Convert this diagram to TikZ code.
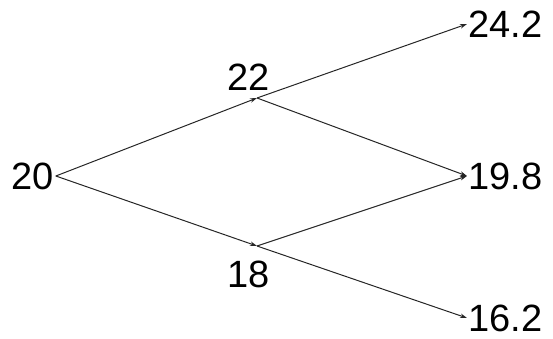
\documentclass[tikz,border=0pt]{standalone}
\usepackage{fontspec}
\setmainfont{Liberation Sans}
\usetikzlibrary{arrows.meta}

\begin{document}
\begin{tikzpicture}[
    x=1pt, y=-1pt,
    val/.style={inner sep=1.5pt, font=\fontsize{38}{41}\selectfont},
    edge/.style={-{Stealth[length=7pt,width=4.5pt]}, line width=1pt, black!85},
]
    \useasboundingbox (0,0) rectangle (553,339);

    \node[val] (s0) at (33,176) {20};
    \coordinate (u) at (257,98);
    \coordinate (d) at (257,246);
    \node[val] (su) at (249,77) {22};
    \node[val] (sd) at (249,274) {18};
    \node[val, anchor=west] (suu) at (467,24) {24.2};
    \node[val, anchor=west] (sud) at (467,176) {19.8};
    \node[val, anchor=west] (sdd) at (467,318) {16.2};

    \draw[edge] (s0.east) -- (u);
    \draw[edge] (s0.east) -- (d);
    \draw[edge] (u) -- (suu.west);
    \draw[edge] (u) -- (sud.west);
    \draw[edge] (d) -- (sud.west);
    \draw[edge] (d) -- (sdd.west);
\end{tikzpicture}
\end{document}
